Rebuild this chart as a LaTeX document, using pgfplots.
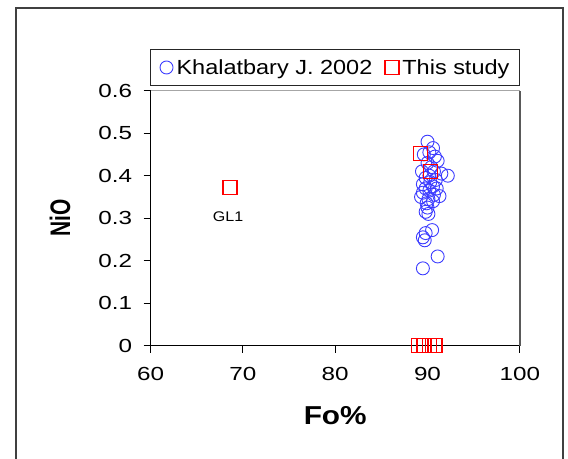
\documentclass[border=0pt]{standalone}
\usepackage{fontspec}
\setmainfont{Liberation Sans}[FakeStretch=1.15]
\newfontfamily\plainsans{Liberation Sans}
\newfontfamily\tickfont{Liberation Sans}[FakeStretch=1.28]
\usepackage{pgfplots}
\pgfplotsset{compat=1.18}
\definecolor{myblue}{RGB}{60,60,255}
\definecolor{myred}{RGB}{255,0,0}
\begin{document}
\begin{tikzpicture}
\useasboundingbox (0bp,0bp) rectangle (568bp,459bp);
\draw[line width=1.5bp, black!75] (16bp,-20bp) rectangle (563bp,451bp);
\begin{axis}[
  at={(150.6bp,113.3bp)}, anchor=south west,
  scale only axis, width=369.2bp, height=255bp,
  xmin=60, xmax=100, ymin=0, ymax=0.6,
  xtick={60,70,80,90,100},
  ytick={0,0.1,0.2,0.3,0.4,0.5,0.6},
  yticklabels={0,0.1,0.2,0.3,0.4,0.5,0.6},
  axis lines=left,
  axis line style={-, line width=1.5bp, black},
  tick align=outside,
  major tick length=7bp,
  tick style={black, line width=1bp},
  /pgf/number format/assume math mode=true,
  tick label style={font=\tickfont\fontsize{19}{22}\selectfont},
  yticklabel style={xshift=-8bp},
  xticklabel style={yshift=-11bp},
  xlabel={Fo\%},
  ylabel={\scalebox{1}[1.35]{\plainsans\bfseries NiO}},
  xlabel style={font=\fontsize{26}{30}\selectfont\bfseries, at={(axis description cs:0.5,-0.2745)}, anchor=center},
  ylabel style={font=\fontsize{21}{25}\selectfont, at={(axis description cs:-0.2454,0.5)}, anchor=center},
  clip=false,
  legend columns=2,
  legend style={draw=none, fill=none, at={(axis description cs:0.025,1.091)}, anchor=west,
    font=\fontsize{20.5}{24}\selectfont, inner sep=0pt,
    nodes={inner xsep=3.5bp},
    /tikz/every even column/.append style={column sep=9bp}},
  legend image code/.code={\draw[#1] plot coordinates {(0bp,0bp)};},
]
\addplot[only marks, draw=myblue, mark=o, mark size=6.5bp, mark options={solid, draw=myblue, fill=none, line width=0.9bp}] coordinates {
(90.0,0.48) (90.6,0.465) (90.2,0.455) (89.6,0.45) (90.8,0.445) (91.1,0.435)
(90.0,0.43) (90.4,0.42) (89.4,0.41) (90.7,0.41) (91.5,0.405) (92.2,0.40)
(90.2,0.40) (89.8,0.395) (90.9,0.39) (90.3,0.385) (89.5,0.38) (90.6,0.375)
(91.0,0.37) (89.8,0.37) (90.2,0.365) (89.5,0.36) (90.7,0.355) (91.3,0.352)
(89.3,0.35) (90.1,0.345) (90.6,0.34) (89.9,0.335) (90.0,0.325) (89.8,0.315)
(90.1,0.31) (90.5,0.272) (89.8,0.265) (89.5,0.255) (89.7,0.248) (91.1,0.21)
(89.5,0.182)
};
\addlegendentry{Khalatbary J. 2002}
\addplot[only marks, draw=myred, mark=square*, mark size=7bp, mark options={solid, draw=myred, fill=white, fill opacity=0, line width=1.5bp}] coordinates {
(89.25,0.452) (90.35,0.41) (68.6,0.372) (89.0,0) (89.6,0) (90.2,0) (90.8,0)
};
\addlegendentry{This study}
\node[font=\fontsize{14}{16}\selectfont] at (axis cs:68.4,0.3035) {GL1};
\draw[black!35, line width=0.8bp] (rel axis cs:0,1) -- (rel axis cs:1,1);
\draw[black!65, line width=1.5bp] (rel axis cs:1,0) -- (rel axis cs:1,1);
\draw[black!85, line width=1.2bp] (rel axis cs:0,1.0196) rectangle (rel axis cs:1,1.1624);
\end{axis}
\end{tikzpicture}
\end{document}
